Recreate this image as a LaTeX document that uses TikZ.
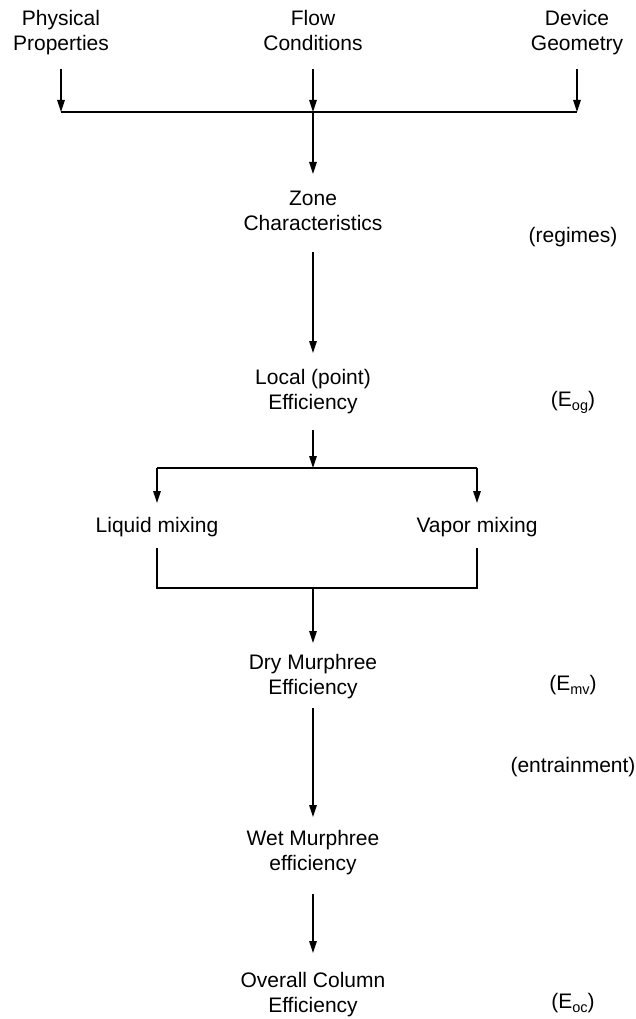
\documentclass[tikz,border=0pt]{standalone}
\usepackage{fontspec}
\setmainfont{Liberation Sans}
\usetikzlibrary{arrows.meta}
\newcommand{\subtxt}[1]{\raisebox{-4pt}{\fontsize{14.5}{14.5}\selectfont #1}}
\begin{document}
\begin{tikzpicture}[x=1pt,y=-1pt,
  lbl/.style={font=\fontsize{21}{25}\selectfont, align=center, inner sep=0pt},
  ln/.style={line width=1.4pt},
  arr/.style={line width=1.4pt, -{Triangle[length=12pt,width=7.5pt]}}]
\useasboundingbox (0,0) rectangle (636,1019);
% main nodes
\node[lbl] (phys) at (61,32.5) {Physical\\Properties};
\node[lbl] (flow) at (313,30.3) {Flow\\Conditions};
\node[lbl] (dev) at (577,32.5) {Device\\Geometry};
\node[lbl] (zone) at (313,211) {Zone\\Characteristics};
\node[lbl] (local) at (313,392) {Local (point)\\Efficiency};
\node[lbl] (liquid) at (157,527) {Liquid mixing};
\node[lbl] (vapor) at (477,527) {Vapor mixing};
\node[lbl] (dry) at (313,677) {Dry Murphree\\Efficiency};
\node[lbl] (wet) at (313,853) {Wet Murphree\\efficiency};
\node[lbl] (overall) at (313,995) {Overall Column\\Efficiency};
% side labels
\node[lbl] (reg) at (573,237) {(regimes)};
\node[lbl] (eog) at (573,402) {(E\subtxt{og})};
\node[lbl] (emv) at (573,685) {(E\subtxt{mv})};
\node[lbl] (ent) at (573,767) {(entrainment)};
\node[lbl] (eoc) at (573,1003) {(E\subtxt{oc})};
% top merge
\draw[arr] (phys |- 0,69) -- (phys |- 0,112);
\draw[arr] (flow |- 0,69) -- (flow |- 0,112);
\draw[arr] (dev |- 0,69) -- (dev |- 0,112);
\draw[ln] (phys |- 0,112) -- (dev |- 0,112);
\draw[arr] (flow |- 0,112) -- (zone |- 0,174);
% chain
\draw[arr] (zone |- 0,252) -- (local |- 0,353);
\draw[arr] (local |- 0,430) -- (local |- 0,468);
\draw[ln] (liquid |- 0,468) -- (vapor |- 0,468);
\draw[arr] (liquid |- 0,468) -- (liquid |- 0,503);
\draw[arr] (vapor |- 0,468) -- (vapor |- 0,503);
\draw[ln] (liquid |- 0,548) -- (liquid |- 0,588) -- (vapor |- 0,588) -- (vapor |- 0,548);
\draw[arr] (local |- 0,588) -- (dry |- 0,643);
\draw[arr] (dry |- 0,708) -- (wet |- 0,817);
\draw[arr] (wet |- 0,894) -- (overall |- 0,953);
\end{tikzpicture}
\end{document}
